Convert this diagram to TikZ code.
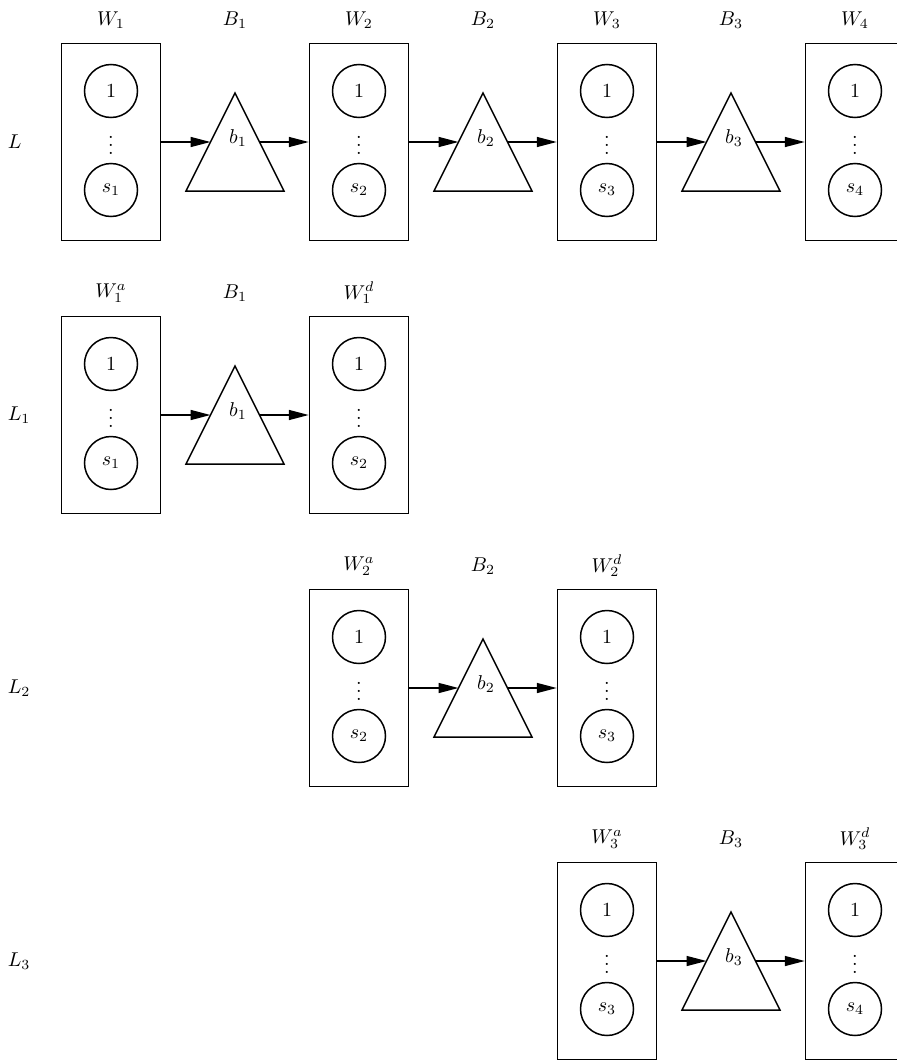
\documentclass[tikz,border=0pt]{standalone}
\usetikzlibrary{arrows.meta,calc}
\newcommand\Wbox[5]{%
  \node[wbox] (#1) at (#2,#3) {};
  \node[unit] (#1u) at (#2,#3-51) {$1$};
  \node[unit] (#1s) at (#2,#3+48) {$s_{#4}$};
  \node[lbl] (#1v) at (#2,#3-3) {$\vdots$};
  \node[lbl] (#1t) at (#2,#3-122) {$#5$};
}
\newcommand\Btri[4]{%
  \coordinate (#1a) at (#2,#3-49);
  \coordinate (#1l) at (#2-49,#3+49);
  \coordinate (#1r) at (#2+49,#3+49);
  \draw[tri] (#1a) -- (#1l) -- (#1r) -- cycle;
  \node[lbl] (#1b) at (#2+3,#3-4) {$b_{#4}$};
  \node[lbl] (#1t) at (#2,#3-122) {$B_{#4}$};
  \coordinate (#1in) at ($(#1a)!0.5!(#1l)$);
  \coordinate (#1out) at ($(#1a)!0.5!(#1r)$);
}
\begin{document}
\begin{tikzpicture}[x=0.5pt,y=-0.5pt,line width=0.75pt,
  wbox/.style={draw,minimum width=49.5pt,minimum height=98.5pt,inner sep=0pt},
  unit/.style={draw,circle,minimum size=26.5pt,inner sep=0pt},
  tri/.style={draw,line join=miter},
  lbl/.style={inner sep=0pt},
  rowlbl/.style={inner sep=0pt,anchor=west},
  conn/.style={-{Triangle[length=10pt,width=5pt]}}]
\useasboundingbox (0,0) rectangle (897,1060);

% Row L
\node[rowlbl] (L) at (7,142) {$L$};
\Wbox{Wa}{111}{142}{1}{W_1}
\Btri{Ba}{235}{142}{1}
\Wbox{Wb}{359}{142}{2}{W_2}
\Btri{Bb}{483}{142}{2}
\Wbox{Wc}{607}{142}{3}{W_3}
\Btri{Bc}{731}{142}{3}
\Wbox{Wd}{855}{142}{4}{W_4}
\draw[conn] (Wa.east) -- (Bain);
\draw[conn] (Baout) -- (Wb.west);
\draw[conn] (Wb.east) -- (Bbin);
\draw[conn] (Bbout) -- (Wc.west);
\draw[conn] (Wc.east) -- (Bcin);
\draw[conn] (Bcout) -- (Wd.west);

% Row L1
\node[rowlbl] (L1) at (7,415) {$L_1$};
\Wbox{Pa}{111}{415}{1}{W_1^a}
\Btri{Pb}{235}{415}{1}
\Wbox{Pc}{359}{415}{2}{W_1^d}
\draw[conn] (Pa.east) -- (Pbin);
\draw[conn] (Pbout) -- (Pc.west);

% Row L2
\node[rowlbl] (L2) at (7,688) {$L_2$};
\Wbox{Qa}{359}{688}{2}{W_2^a}
\Btri{Qb}{483}{688}{2}
\Wbox{Qc}{607}{688}{3}{W_2^d}
\draw[conn] (Qa.east) -- (Qbin);
\draw[conn] (Qbout) -- (Qc.west);

% Row L3
\node[rowlbl] (L3) at (7,961) {$L_3$};
\Wbox{Ra}{607}{961}{3}{W_3^a}
\Btri{Rb}{731}{961}{3}
\Wbox{Rc}{855}{961}{4}{W_3^d}
\draw[conn] (Ra.east) -- (Rbin);
\draw[conn] (Rbout) -- (Rc.west);
\end{tikzpicture}
\end{document}
